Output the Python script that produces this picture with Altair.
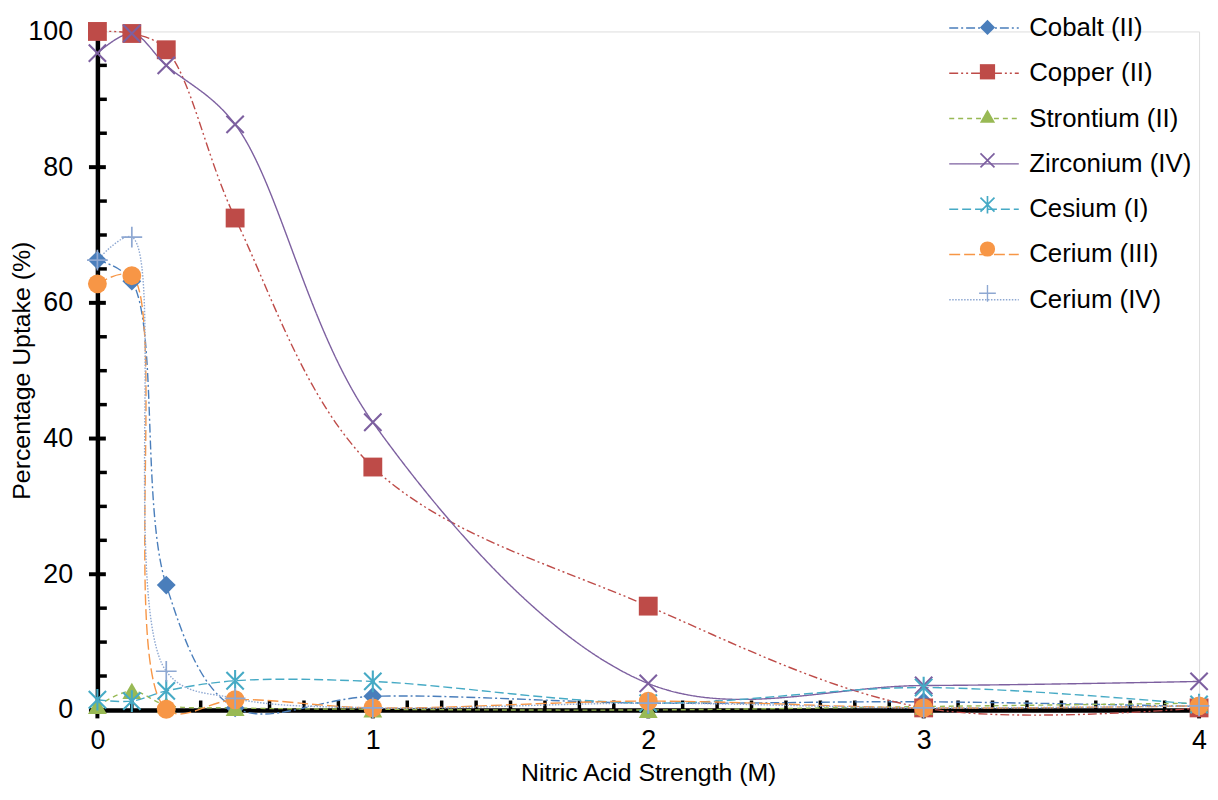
import math
import altair as alt
import pandas as pd

# ---------------- data ----------------
x_vals = [0, 0.125, 0.25, 0.5, 1, 2, 3, 4]
series_names = ["Cobalt (II)", "Copper (II)", "Strontium (II)", "Zirconium (IV)",
                "Cesium (I)", "Cerium (III)", "Cerium (IV)"]
cobalt = [66.3, 63.2, 18.4, 0.3, 2.0, 1.0, 1.2, 0.5]
copper = [100.0, 99.7, 97.3, 72.5, 35.8, 15.3, 0.3, 0.3]
strontium = [0.6, 2.8, 0.7, 0.3, 0.1, 0.0, 0.5, 1.0]
zirconium = [96.8, 99.7, 95.0, 86.3, 42.4, 3.9, 3.6, 4.2]
cesium = [1.5, 1.3, 2.8, 4.3, 4.2, 1.0, 3.3, 0.8]
cerium3 = [62.8, 64.0, 0.1, 1.5, 0.3, 1.3, 0.3, 0.6]
cerium4 = [66.3, 69.7, 5.7, 1.7, 0.3, 1.0, 0.3, 0.6]
all_values = [cobalt, copper, strontium, zirconium, cesium, cerium3, cerium4]

x_tick_labels = [0, 1, 2, 3, 4]
y_tick_labels = [0, 20, 40, 60, 80, 100]
y_minor = [5, 10, 15, 25, 30, 35, 45, 50, 55, 65, 70, 75, 85, 90, 95]
x_minor = [0.125, 0.25, 0.375, 0.5, 0.625, 0.75, 0.875,
           1.125, 1.25, 1.375, 1.5, 1.625, 1.75, 1.875,
           2.125, 2.25, 2.375, 2.5, 2.625, 2.75, 2.875,
           3.125, 3.25, 3.375, 3.5, 3.625, 3.75, 3.875]


# ---------------- styles ----------------
def bars_path(bars, t):
    """Filled symbol made of thin bars: list of (angle_deg, half_length)."""
    parts = []
    for ang, L in bars:
        a = math.radians(ang)
        c, s = math.cos(a), math.sin(a)
        px, py = -s * t, c * t
        pts = [(L * c + px, L * s + py), (L * c - px, L * s - py),
               (-L * c - px, -L * s - py), (-L * c + px, -L * s + py)]
        parts.append("M" + "L".join(f"{x:.3f},{y:.3f}" for x, y in pts) + "Z")
    return "".join(parts)


x_shape = bars_path([(45, 1.3), (135, 1.3)], 0.11)
star_shape = bars_path([(90, 1.15), (45, 1.3), (135, 1.3)], 0.11)
plus_shape = bars_path([(0, 1.1), (90, 1.1)], 0.09)

colors = ["#4A7EBB", "#BE4B48", "#98B954", "#7D60A0", "#46AAC5", "#F79646", "#8EA8D2"]
dashes = [[9, 3, 2, 3], [9, 3, 2, 3, 2, 3], [5, 4], [1, 0], [9, 4], [11, 4], [1.5, 1.5]]
shapes = ["diamond", "square", "triangle-up", x_shape, star_shape, "circle", plus_shape]

FONT = "Liberation Sans"

rows = []
for name, vals in zip(series_names, all_values):
    for x, y in zip(x_vals, vals):
        rows.append({"series": name, "series_p": name + " ", "x": x, "y": y})
df = pd.DataFrame(rows)
point_domain = [n + " " for n in series_names]

xscale = alt.Scale(domain=[0, 4], nice=False, zero=False)
yscale = alt.Scale(domain=[0, 100], nice=False)

x_axis = alt.Axis(values=x_tick_labels, format="d", title="Nitric Acid Strength (M)", grid=False,
                  ticks=False, tickSize=0, domain=True, domainColor="black", domainWidth=4.5,
                  labelFont=FONT, labelFontSize=27, labelColor="black", labelPadding=18, labelFlush=False,
                  titleFont=FONT, titleFontSize=25, titleFontWeight="normal", titleColor="black",
                  titleX=554.5, titleY=63, titleBaseline="middle")
y_axis = alt.Axis(values=y_tick_labels, format="d", title="Percentage Uptake (%)", grid=False,
                  ticks=False, tickSize=0, domain=True, domainColor="black", domainWidth=4.5,
                  labelFont=FONT, labelFontSize=27, labelColor="black", labelPadding=25, labelFlush=False,
                  titleFont=FONT, titleFontSize=25, titleFontWeight="normal", titleColor="black",
                  titleX=-76, titleY=341, titleBaseline="middle", titleAngle=-90)

legend_a = alt.Legend(orient="none", legendX=879, legendY=-17, title=None,
                      symbolType="M-2.8,0L2.8,0", symbolSize=625, symbolStrokeWidth=1.5,
                      labelFont=FONT, labelFontSize=26, labelColor="black", labelOffset=32,
                      rowPadding=18.6, padding=0, labelLimit=400)
legend_b = alt.Legend(orient="none", legendX=883, legendY=-17, title=None,
                      symbolSize=235, symbolStrokeWidth=0,
                      labelFont=FONT, labelFontSize=26, labelExpr="''", labelOffset=7,
                      rowPadding=18.6, padding=0, labelLimit=400)

lines = alt.Chart(df).mark_line(interpolate="catmull-rom", strokeWidth=1.4).encode(
    x=alt.X("x:Q", scale=xscale, axis=x_axis),
    y=alt.Y("y:Q", scale=yscale, axis=y_axis),
    color=alt.Color("series:N", scale=alt.Scale(domain=series_names, range=colors), legend=legend_a),
    strokeDash=alt.StrokeDash("series:N", scale=alt.Scale(domain=series_names, range=dashes), legend=legend_a),
    order=alt.Order("x:Q"),
)

points = alt.Chart(df).mark_point(filled=True, opacity=1, size=360, strokeWidth=0).encode(
    x=alt.X("x:Q", scale=xscale),
    y=alt.Y("y:Q", scale=yscale),
    fill=alt.Fill("series_p:N", scale=alt.Scale(domain=point_domain, range=colors), legend=legend_b),
    shape=alt.Shape("series_p:N", scale=alt.Scale(domain=point_domain, range=shapes), legend=legend_b),
)

y_major_df = pd.DataFrame({"v": y_tick_labels})
y_minor_df = pd.DataFrame({"v": y_minor})
x_major_df = pd.DataFrame({"v": x_tick_labels})
x_minor_df = pd.DataFrame({"v": x_minor})

y_major_ticks = alt.Chart(y_major_df).mark_tick(orient="horizontal", size=17, thickness=4, color="black", opacity=1).encode(
    x=alt.datum(0), y=alt.Y("v:Q", scale=yscale))
y_minor_ticks = alt.Chart(y_minor_df).mark_tick(orient="horizontal", size=9, thickness=3.5, color="black", opacity=1, xOffset=5).encode(
    x=alt.datum(0), y=alt.Y("v:Q", scale=yscale))
x_major_ticks = alt.Chart(x_major_df).mark_tick(orient="vertical", size=17, thickness=4, color="black", opacity=1).encode(
    x=alt.X("v:Q", scale=xscale), y=alt.datum(0))
x_minor_ticks = alt.Chart(x_minor_df).mark_tick(orient="vertical", size=9, thickness=3.5, color="black", opacity=1, yOffset=-5).encode(
    x=alt.X("v:Q", scale=xscale), y=alt.datum(0))

chart = alt.layer(y_major_ticks, y_minor_ticks, x_major_ticks, x_minor_ticks, lines, points).properties(
    width=1109, height=683,
    autosize=alt.AutoSizeParams(type="none"),
    padding={"left": 90, "top": 21, "right": 11, "bottom": 80},
).configure_view(stroke=None).configure(background="white")

chart.save("out.html", embed_options={"renderer": "svg", "actions": False})
